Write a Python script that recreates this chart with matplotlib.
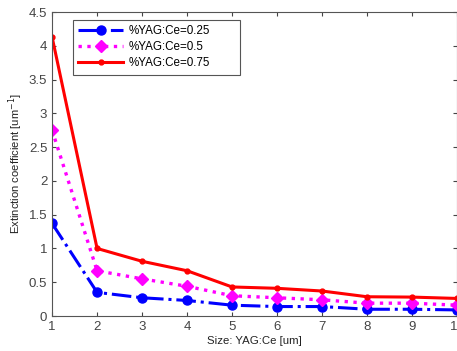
import matplotlib
matplotlib.use('Agg')
import matplotlib.pyplot as plt

plt.rcParams['font.family'] = ['Liberation Sans', 'DejaVu Sans']

sizes = [1, 2, 3, 4, 5, 6, 7, 8, 9, 10]
ext_025 = [1.37, 0.35, 0.27, 0.23, 0.16, 0.14, 0.14, 0.10, 0.10, 0.09]
ext_05 = [2.75, 0.67, 0.55, 0.44, 0.30, 0.27, 0.24, 0.19, 0.19, 0.16]
ext_075 = [4.13, 1.00, 0.81, 0.67, 0.43, 0.41, 0.37, 0.285, 0.28, 0.26]
labels = ['%YAG:Ce=0.25', '%YAG:Ce=0.5', '%YAG:Ce=0.75']

fig = plt.figure(figsize=(4.57, 3.51), dpi=100)
ax = fig.add_axes([0.114, 0.0997, 0.886, 0.866])

ax.plot(sizes, ext_025, color='#0000ff', linestyle='-.', linewidth=2.2,
        marker='o', markersize=6.5, label=labels[0])
ax.plot(sizes, ext_05, color='#ff00ff', linestyle=':', linewidth=2.4,
        marker='D', markersize=6, label=labels[1])
ax.plot(sizes, ext_075, color='#ff0000', linestyle='-', linewidth=2.2,
        marker='.', markersize=7, label=labels[2])

ax.set_xlim(1, 10)
ax.set_ylim(0, 4.5)
ax.set_xticks(sizes)
ax.set_yticks([0, 0.5, 1, 1.5, 2, 2.5, 3, 3.5, 4, 4.5])
ax.set_yticklabels(['0', '0.5', '1', '1.5', '2', '2.5', '3', '3.5', '4', '4.5'])
ax.tick_params(direction='in', top=True, right=True, labelsize=9.5,
               colors='#444444', length=3, width=0.8)
for s in ax.spines.values():
    s.set_color('#555555')
    s.set_linewidth(0.8)

ax.set_xlabel('Size: YAG:Ce [um]', fontsize=8.2, color='#222222', labelpad=2)
ax.set_ylabel('Extinction coefficient [um$^{-1}$]', fontsize=8.1, color='#222222', labelpad=3)

# MATLAB-style legend box, wider than its text
leg = ax.legend(loc='upper left', bbox_to_anchor=(0.052, 0.8, 0.412, 0.174),
                mode='expand', borderaxespad=0, fontsize=8.4,
                fancybox=False, framealpha=1, edgecolor='#555555',
                handlelength=3.8, handletextpad=0.5, borderpad=0.45,
                labelspacing=0.35)
leg.get_frame().set_linewidth(0.8)

fig.savefig('out.png', dpi=100)
